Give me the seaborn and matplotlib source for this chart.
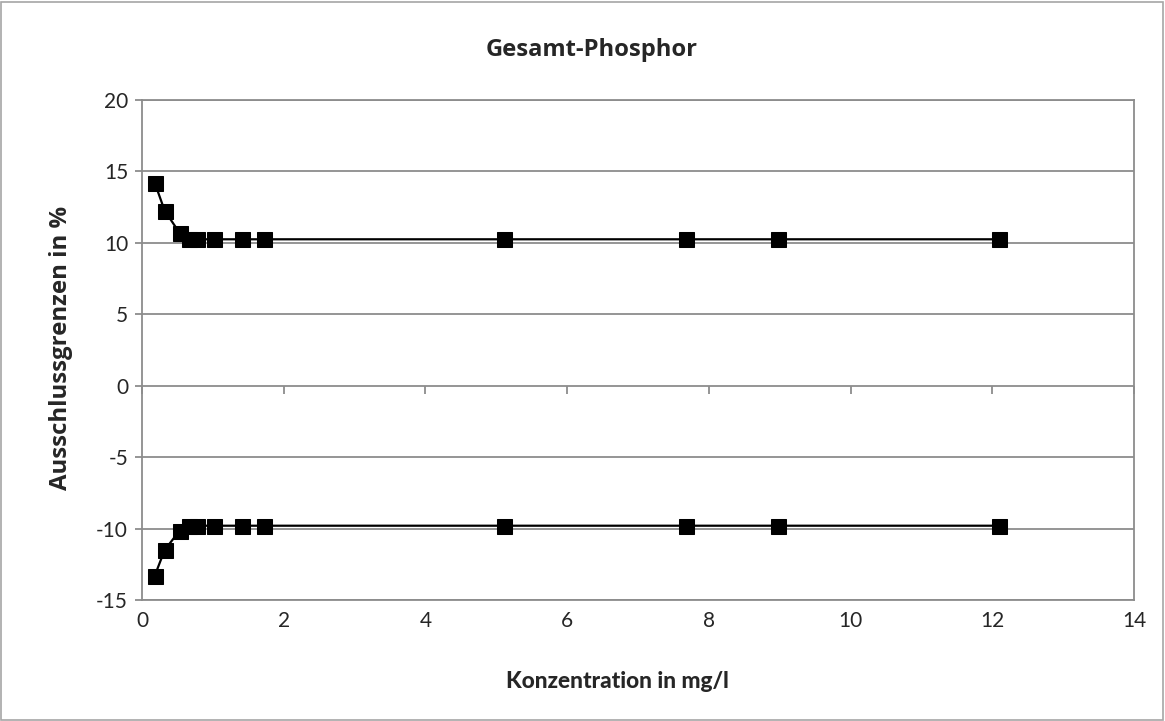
import matplotlib
matplotlib.use("Agg")
import matplotlib.pyplot as plt
import seaborn as sns
import pandas as pd
from matplotlib.patches import Rectangle

# Data
konzentration = [0.18, 0.32, 0.53, 0.67, 0.77, 1.02, 1.41, 1.72, 5.11, 7.68, 8.98, 12.10]
obere_grenze = [14.2, 12.25, 10.7, 10.25, 10.25, 10.25, 10.25, 10.25, 10.25, 10.25, 10.25, 10.25]
untere_grenze = [-13.3, -11.5, -10.15, -9.8, -9.8, -9.8, -9.8, -9.8, -9.8, -9.8, -9.8, -9.8]

x_ticks = [0, 2, 4, 6, 8, 10, 12, 14]
y_ticks = [-15, -10, -5, 0, 5, 10, 15, 20]

title = "Gesamt-Phosphor"
x_label = "Konzentration in mg/l"
y_label = "Ausschlussgrenzen in %"

sns.set_style("white")
plt.rcParams['font.family'] = ['Lato', 'DejaVu Sans']

W, H = 1165, 721
fig = plt.figure(figsize=(W / 100, H / 100), dpi=100)
ax = fig.add_axes([142 / W, 1 - 600 / H, (1134 - 142) / W, (600 - 100) / H])

grid_col = "#8c8c8c"

df_up = pd.DataFrame({"x": konzentration, "y": obere_grenze})
df_lo = pd.DataFrame({"x": konzentration, "y": untere_grenze})
for d in (df_up, df_lo):
    sns.lineplot(data=d, x="x", y="y", ax=ax, color="black", linewidth=1.6,
                 marker="s", markersize=10.8, markeredgecolor="black",
                 markerfacecolor="black", zorder=5, sort=False)

ax.set_xlim(0, 14)
ax.set_ylim(-15, 20)
ax.set_xticks(x_ticks)
ax.set_yticks(y_ticks)
ax.set_xticklabels([str(t) for t in x_ticks], fontsize=15)
ax.set_yticklabels([str(t) for t in y_ticks], fontsize=15)

ax.yaxis.grid(True, color=grid_col, linewidth=1.3)
ax.xaxis.grid(False)
ax.set_axisbelow(True)
for s in ax.spines.values():
    s.set_visible(True)
    s.set_color(grid_col)
    s.set_linewidth(1.3)

ax.tick_params(axis="y", direction="out", length=5, width=1.3, color=grid_col,
               pad=5, left=True)
ax.tick_params(axis="x", length=0, pad=8)

# tick marks along the zero line
sec = ax.secondary_xaxis(15 / 35)
sec.set_xticks(x_ticks)
sec.tick_params(direction="out", length=6, width=1.3, color=grid_col,
                labelbottom=False, labeltop=False, bottom=True, top=False)
sec.spines["bottom"].set_visible(False)
sec.spines["top"].set_visible(False)

ax.set_xlabel("")
ax.set_ylabel("")

renderer = fig.canvas.get_renderer()


def fitted_text(x, y, s, target_px, rotation=0, family=("Open Sans", "DejaVu Sans"),
                weight="bold"):
    fs = 15.0
    t = fig.text(x, y, s, ha="center", va="center", fontsize=fs,
                 fontweight=weight, rotation=rotation, family=list(family))
    for _ in range(3):
        bb = t.get_window_extent(renderer=renderer)
        size = bb.height if rotation else bb.width
        fs = fs * target_px / size
        t.set_fontsize(fs)
    return t


fitted_text(617 / W, 1 - 682 / H, x_label, 223, family=("Lato", "DejaVu Sans"),
            weight="black")
fitted_text(592 / W, 1 - 50 / H, title, 212)
fitted_text(61 / W, 1 - 348 / H, y_label, 285, rotation=90)

fig.patches.append(Rectangle((1 / W, 1 / H), (W - 3) / W, (H - 3) / H,
                             transform=fig.transFigure, fill=False,
                             edgecolor="#a6a6a6", linewidth=1.2))

fig.savefig("out.png", dpi=100)
